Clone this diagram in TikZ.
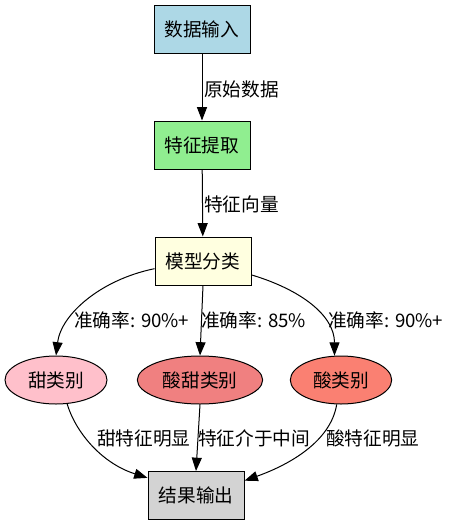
\documentclass[tikz,border=0pt]{standalone}
\usepackage{fontspec}
\setmainfont{Noto Sans CJK SC}
\usetikzlibrary{shapes.geometric,arrows.meta}
\definecolor{cBlue}{HTML}{ADD8E6}
\definecolor{cGreen}{HTML}{90EE90}
\definecolor{cYellow}{HTML}{FFFFE0}
\definecolor{cPink}{HTML}{FFC0CB}
\definecolor{cCoral}{HTML}{F08080}
\definecolor{cSalmon}{HTML}{FA8072}
\definecolor{cGray}{HTML}{D3D3D3}
\begin{document}
\begin{tikzpicture}[x=0.75pt,y=-0.75pt,
  font=\fontsize{14pt}{16pt}\selectfont,
  boxnode/.style={draw=black,line width=0.75pt,rectangle,inner sep=0pt,minimum width=72pt,minimum height=36pt},
  ellnode/.style={draw=black,line width=0.75pt,ellipse,inner sep=0pt,minimum height=36pt},
  lbl/.style={anchor=west,inner sep=0pt},
  conn/.style={line width=0.75pt,-{Triangle[length=10pt,width=7.5pt]}}]
\useasboundingbox (0,0) rectangle (455,526);
\node[boxnode,fill=cBlue] (in) at (202,29) {数据输入};
\node[boxnode,fill=cGreen] (fe) at (202,145) {特征提取};
\node[boxnode,fill=cYellow] (m) at (203,261) {模型分类};
\node[ellnode,fill=cPink,minimum width=76.5pt] (s) at (56,380) {甜类别};
\node[ellnode,fill=cCoral,minimum width=94pt] (ms) at (200,380) {酸甜类别};
\node[ellnode,fill=cSalmon,minimum width=76pt] (a) at (341,380) {酸类别};
\node[boxnode,fill=cGray] (r) at (196,495.5) {结果输出};

\node[lbl] (l1) at (204,89) {原始数据};
\node[lbl] (l2) at (204,204) {特征向量};
\node[lbl] (l3) at (74,320) {准确率: 90\%+};
\node[lbl] (l4) at (201,320) {准确率: 85\%};
\node[lbl] (l5) at (328,320) {准确率: 90\%+};
\node[lbl] (l6) at (97,438) {甜特征明显};
\node[lbl] (l7) at (198,438) {特征介于中间};
\node[lbl] (l8) at (326,438) {酸特征明显};

\draw[conn] (in) -- (fe);
\draw[conn] (fe) -- (m);
\draw[conn] (m.189) .. controls +(-54,11) and +(5,-41) .. (s.north);
\draw[conn] (m.south) -- (ms.north);
\draw[conn] (m.-16) .. controls +(50,15) and +(0,-40) .. (a.105);
\draw[conn] (s.-65) .. controls +(8,27) and +(-47,-15) .. (r.160);
\draw[conn] (ms.south) -- (r.north);
\draw[conn] (a.-100) .. controls +(-6,37) and +(45,-16) .. (r.17);
\end{tikzpicture}
\end{document}
